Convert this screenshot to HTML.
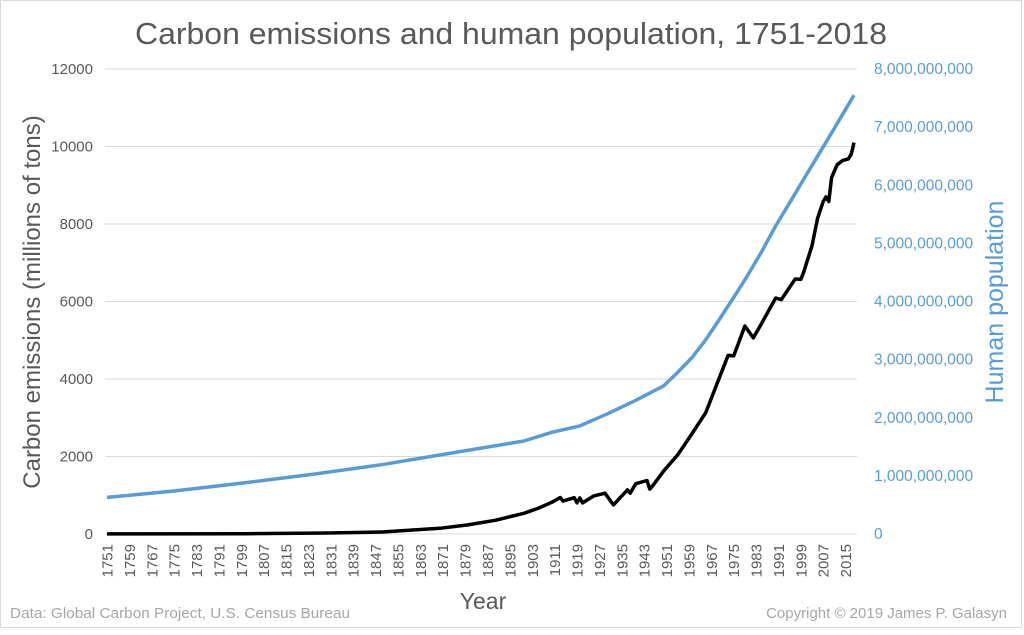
<!DOCTYPE html>
<html><head><meta charset="utf-8"><style>
body{margin:0;background:#fff;}
svg text{font-family:"Liberation Sans",sans-serif;}
</style></head><body>
<svg width="1024" height="630" viewBox="0 0 1024 630">
<rect x="0.5" y="0.5" width="1021" height="627" fill="#fff" stroke="#d9d9d9"/>
<text x="511" y="44" text-anchor="middle" font-size="31" fill="#595959" textLength="752" lengthAdjust="spacingAndGlyphs">Carbon emissions and human population, 1751-2018</text>
<g id="grid"></g><g id="ylab"></g><g id="y2lab"></g><g id="xlab"></g>
<path id="popLine" fill="none" stroke="#5b9bd5" stroke-width="3.5" stroke-linejoin="round"/>
<path id="emLine" fill="none" stroke="#000" stroke-width="3.5" stroke-linejoin="round"/>
<text transform="translate(40,302) rotate(-90)" text-anchor="middle" font-size="24" fill="#595959">Carbon emissions (millions of tons)</text>
<text transform="translate(1003,302) rotate(-90)" text-anchor="middle" font-size="25" fill="#5b9bd5">Human population</text>
<text x="483" y="609" text-anchor="middle" font-size="23" fill="#595959">Year</text>
<text x="10" y="618" font-size="15" fill="#a6a6a6" textLength="340" lengthAdjust="spacingAndGlyphs">Data: Global Carbon Project, U.S. Census Bureau</text>
<text x="1007" y="618" text-anchor="end" font-size="15" fill="#a6a6a6">Copyright © 2019 James P. Galasyn</text>
</svg>
<script>
const emYears=[1751,1800,1830,1850,1870,1880,1890,1900,1905,1910,1913,1914,1918,1919,1920,1921,1925,1929,1932,1937,1938,1940,1944,1945,1946,1950,1955,1960,1965,1970,1973,1975,1979,1982,1985,1990,1992,1995,1997,1999,2000,2003,2005,2007,2008,2009,2010,2012,2014,2016,2017,2018];
const emValues=[3,8,25,54,147,236,356,534,660,819,943,850,936,806,932,803,983,1053,750,1137,1053,1299,1380,1160,1240,1630,2040,2577,3130,4053,4610,4596,5369,5060,5440,6090,6050,6370,6580,6570,6750,7440,8150,8580,8700,8580,9200,9530,9640,9680,9800,10100];
const popYears=[1751,1775,1800,1825,1850,1875,1900,1910,1920,1930,1940,1950,1955,1960,1965,1970,1975,1980,1985,1990,1995,2000,2005,2010,2018];
const popValues=[0.63,0.74,0.88,1.03,1.2,1.4,1.6,1.75,1.86,2.07,2.3,2.55,2.78,3.03,3.34,3.7,4.07,4.45,4.86,5.3,5.7,6.1,6.5,6.9,7.55];
const yTicks=[0,2000,4000,6000,8000,10000,12000];
const y2Ticks=[0,1,2,3,4,5,6,7,8];
const y2Labels=["0","1,000,000,000","2,000,000,000","3,000,000,000","4,000,000,000","5,000,000,000","6,000,000,000","7,000,000,000","8,000,000,000"];
const xTickYears=[];for(let y=1751;y<=2018;y+=8)xTickYears.push(y);
const X=y=>107+(y-1751)*(747/267);
const Y=v=>534-v*(465/12000);
const Y2=v=>534-v*(465/8);
const NS="http://www.w3.org/2000/svg";
function mk(t,a,p,txt){const e=document.createElementNS(NS,t);for(const k in a)e.setAttribute(k,a[k]);if(txt!==undefined)e.textContent=txt;p.appendChild(e);return e;}
const grid=document.getElementById('grid'),yl=document.getElementById('ylab'),y2l=document.getElementById('y2lab'),xl=document.getElementById('xlab');
yTicks.forEach(v=>{
 const l=mk('line',{x1:105,x2:857,y1:Y(v),y2:Y(v),stroke:'#d9d9d9','stroke-width':1},grid);
 
 
 const t=mk('text',{x:93,y:Y(v)+5,'text-anchor':'end','font-size':15,fill:'#595959'},yl,String(v));
 
 
});
y2Ticks.forEach((v,i)=>{
 const t=mk('text',{x:874,y:Y2(v)+5,'font-size':15.5,fill:'#5b9bd5'},y2l,y2Labels[i]);
 
 
});
xTickYears.forEach(y=>{
 const t=mk('text',{transform:`translate(${X(y)+5.5},544) rotate(-90)`,'text-anchor':'end','font-size':15,fill:'#595959'},xl,String(y));
 
 
});
document.getElementById('emLine').setAttribute('d',emYears.map((y,i)=>(i?'L':'M')+X(y).toFixed(1)+','+Y(emValues[i]).toFixed(1)).join(''));
document.getElementById('popLine').setAttribute('d',popYears.map((y,i)=>(i?'L':'M')+X(y).toFixed(1)+','+Y2(popValues[i]).toFixed(1)).join(''));
</script>
</body></html>
